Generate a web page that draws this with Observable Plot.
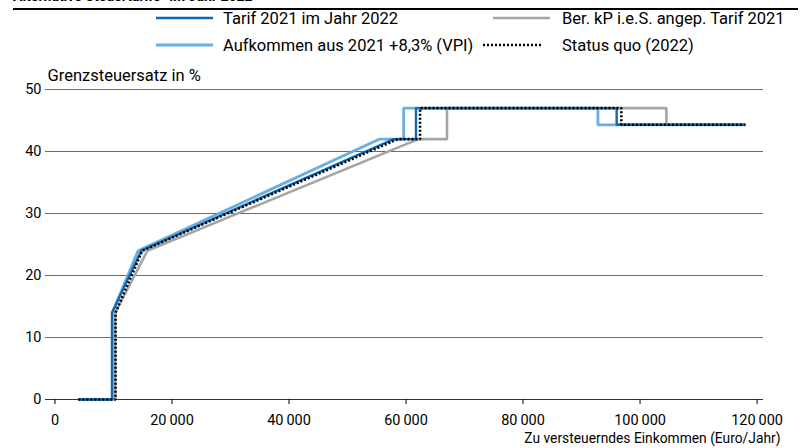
<!DOCTYPE html>
<html>
<head>
<meta charset="utf-8">
<script src="https://cdn.jsdelivr.net/npm/d3@7"></script>
<script src="https://cdn.jsdelivr.net/npm/@observablehq/plot@0.6"></script>
<style>
  html, body { margin: 0; padding: 0; background: #fff; }
  body { width: 811px; height: 448px; overflow: hidden; font-family: Roboto, "Noto Sans", sans-serif; color: #000; }
  #head { position: relative; height: 60px; width: 811px; overflow: hidden; }
  #title { position: absolute; left: 13px; top: -12px; font-weight: bold; font-size: 14px; white-space: nowrap; }
  #rule { position: absolute; left: 13px; top: 8px; width: 785px; height: 2px; background: #000; }
  .leg { position: absolute; font-size: 16.5px; white-space: nowrap; display: flex; align-items: center; height: 20px; }
</style>
</head>
<body>
<div id="head">
  <div id="title">Alternative Steuertarife¹ im Jahr 2022</div>
  <div id="rule"></div>
</div>
<div id="chart"></div>
<script>
// ---- data (x: zu versteuerndes Einkommen in Euro, y: Grenzsteuersatz in %) ----
const seriesNames = [
  "Tarif 2021 im Jahr 2022",
  "Aufkommen aus 2021 +8,3% (VPI)",
  "Ber. kP i.e.S. angep. Tarif 2021",
  "Status quo (2022)"
];
const tarif2021_x = [4000, 9744, 9744, 14753, 57918, 61700, 61700, 96000, 96000, 118000];
const tarif2021_y = [0, 0, 14, 24, 42, 42, 47, 47, 44.31, 44.31];

const aufkommen_x = [4000, 9800, 9800, 14200, 55500, 59600, 59600, 92800, 92800, 118000];
const aufkommen_y = [0, 0, 14, 24, 42, 42, 47, 47, 44.31, 44.31];

const berkp_x = [4000, 10300, 10300, 15800, 62100, 67000, 67000, 104500, 104500, 118000];
const berkp_y = [0, 0, 14, 24, 42, 42, 47, 47, 44.31, 44.31];

const statusquo_x = [4000, 10347, 10347, 14926, 58596, 62400, 62400, 96800, 96800, 118000];
const statusquo_y = [0, 0, 14, 24, 42, 42, 47, 47, 44.31, 44.31];

const xTicks = [0, 20000, 40000, 60000, 80000, 100000, 120000];
const yTicks = [0, 10, 20, 30, 40, 50];

const colors = {
  "Tarif 2021 im Jahr 2022": "#1069b3",
  "Aufkommen aus 2021 +8,3% (VPI)": "#69aee0",
  "Ber. kP i.e.S. angep. Tarif 2021": "#a5a5a5",
  "Status quo (2022)": "#000000"
};

function rows(name, xs, ys) { return xs.map((x, i) => ({name, x, y: ys[i]})); }
const dTarif = rows(seriesNames[0], tarif2021_x, tarif2021_y);
const dAuf = rows(seriesNames[1], aufkommen_x, aufkommen_y);
const dBer = rows(seriesNames[2], berkp_x, berkp_y);
const dSq = rows(seriesNames[3], statusquo_x, statusquo_y);

const fmt = d => d3.format(",")(d).replace(/,/g, "\u2009");

const plot = Plot.plot({
  width: 811,
  height: 388,
  marginLeft: 45,
  marginRight: 48,
  marginTop: 29,
  marginBottom: 49,
  style: {fontFamily: "Roboto, 'Noto Sans', sans-serif", fontSize: "14px", color: "#000", background: "#fff"},
  x: {domain: [-1620, 121100]},
  y: {domain: [0, 50]},
  marks: [
    Plot.ruleY(yTicks.slice(1), {stroke: "#6b6b6b", strokeWidth: 1}),
    Plot.ruleY([0], {stroke: "#333", strokeWidth: 1}),
    Plot.axisX({ticks: xTicks, tickFormat: fmt, tickSize: 5, tickPadding: 10, label: null, fontSize: 14.5}),
    Plot.axisY({ticks: yTicks, tickSize: 0, tickPadding: 4, label: null, fontSize: 14.5}),
    Plot.line(dBer, {x: "x", y: "y", stroke: colors[seriesNames[2]], strokeWidth: 2.6, strokeLinejoin: "miter", strokeLinecap: "butt"}),
    Plot.line(dAuf, {x: "x", y: "y", stroke: colors[seriesNames[1]], strokeWidth: 2.8, strokeLinejoin: "miter", strokeLinecap: "butt"}),
    Plot.line(dTarif, {x: "x", y: "y", stroke: colors[seriesNames[0]], strokeWidth: 2.4, strokeLinejoin: "miter", strokeLinecap: "butt"}),
    Plot.line(dSq, {x: "x", y: "y", stroke: colors[seriesNames[3]], strokeWidth: 2.6, strokeDasharray: "2,2", strokeLinejoin: "miter", strokeLinecap: "butt"}),
    Plot.text(["Grenzsteuersatz in %"], {frameAnchor: "top-left", dx: 2, dy: -20, textAnchor: "start", fontSize: 16.5}),
    Plot.text(["Zu versteuerndes Einkommen (Euro/Jahr)"], {frameAnchor: "bottom-right", dx: 17, dy: 43, textAnchor: "end", fontSize: 13.8})
  ]
});
document.getElementById("chart").appendChild(plot);

// legend (HTML, above the chart)
const head = document.getElementById("head");
const legPos = [
  {name: seriesNames[0], left: 156, top: 8},
  {name: seriesNames[1], left: 156, top: 35},
  {name: seriesNames[2], left: 493, top: 8},
  {name: seriesNames[3], left: 483, top: 35}
];
const legWidths = {[seriesNames[0]]: 57, [seriesNames[1]]: 57, [seriesNames[2]]: 57, [seriesNames[3]]: 60};
for (const p of legPos) {
  const div = document.createElement("div");
  div.className = "leg";
  div.style.left = p.left + "px";
  div.style.top = p.top + "px";
  const w = legWidths[p.name];
  const dash = p.name === seriesNames[3] ? ' stroke-dasharray="2,2"' : "";
  const sw = p.name === seriesNames[1] ? 2.8 : 2.6;
  const gap = p.name === seriesNames[3] ? 19 : (p.name === seriesNames[2] ? 12 : 10);
  div.innerHTML = `<svg width="${w}" height="6" style="margin-right:${gap}px"><line x1="0" y1="3" x2="${w}" y2="3" stroke="${colors[p.name]}" stroke-width="${sw}"${dash}/></svg><span>${p.name}</span>`;
  head.appendChild(div);
}
</script>
</body>
</html>
